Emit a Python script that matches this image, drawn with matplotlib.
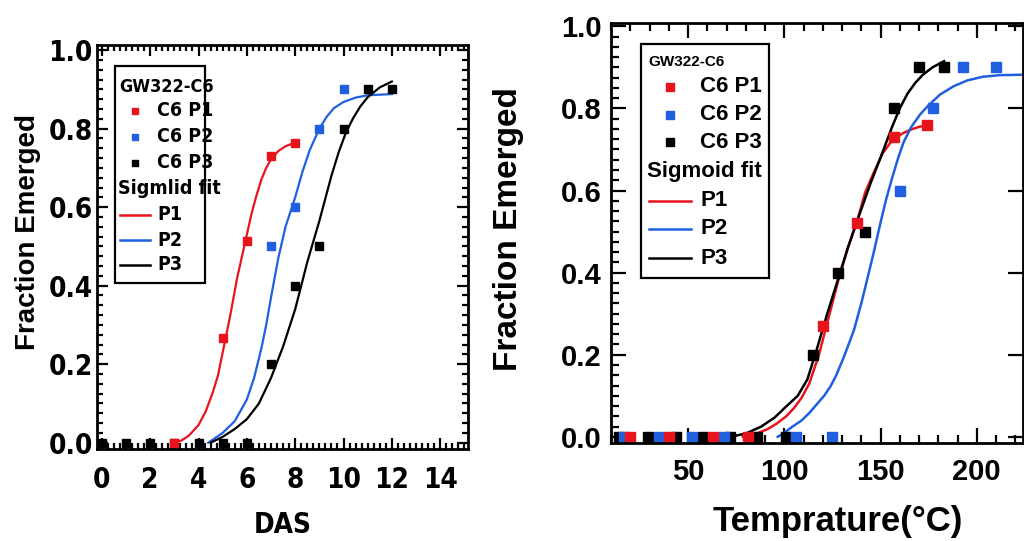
"""
GW322-C6 出苗比例: 左图按 DAS, 右图按温度
"""
import matplotlib
matplotlib.use('Agg')
import matplotlib.pyplot as plt
from matplotlib import font_manager
from matplotlib.ticker import MultipleLocator, FormatStrFormatter
from matplotlib.patches import Rectangle
from matplotlib.lines import Line2D

# 字体: 左图尽量用窄体, 右图用 Arial 类
WIDE = 'Liberation Sans'
_cond = font_manager.findfont(font_manager.FontProperties(family='DejaVu Sans', stretch='condensed',
                                                          weight='bold'))
if 'Condensed' in _cond:
    NARROW_FP = dict(fontproperties=font_manager.FontProperties(fname=_cond))
else:
    NARROW_FP = dict(fontfamily=WIDE, fontweight='bold')

RED = '#e8141c'
BLUE = '#1f5fe0'
BLACK = '#000000'

# ---- 左图数据 (DAS) ----
das_p1_x = [3, 5, 6, 7, 8]
das_p1_y = [0.0, 0.267, 0.515, 0.73, 0.763]
das_p2_x = [7, 8, 9, 10]
das_p2_y = [0.5, 0.6, 0.8, 0.9]
das_p3_x = [0, 1, 2, 3, 4, 5, 6, 7, 8, 9, 10, 11, 12]
das_p3_y = [0, 0, 0, 0, 0, 0, 0, 0.2, 0.4, 0.5, 0.8, 0.9, 0.9]

# 拟合曲线
das_fit1_x = [3.0, 3.3, 3.6, 4.0, 4.3, 4.6, 4.8, 5.0, 5.3, 5.6, 5.8, 6.0, 6.2, 6.4, 6.6, 6.8, 7.0, 7.3, 7.6, 8.0]
das_fit1_y = [0.0, 0.006, 0.018, 0.045, 0.08, 0.13, 0.17, 0.23, 0.32, 0.42, 0.475, 0.53, 0.585, 0.63, 0.67, 0.70,
              0.722, 0.743, 0.755, 0.765]
das_fit2_x = [4.4, 5.0, 5.5, 6.0, 6.3, 6.6, 6.8, 7.0, 7.3, 7.6, 8.0, 8.3, 8.6, 9.0, 9.3, 9.6, 10.0, 10.5, 11.0, 12.0]
das_fit2_y = [0.0, 0.025, 0.055, 0.11, 0.165, 0.24, 0.30, 0.37, 0.47, 0.55, 0.625, 0.69, 0.745, 0.8, 0.83, 0.852,
              0.868, 0.879, 0.885, 0.888]
das_fit3_x = [4.5, 5.0, 5.5, 6.0, 6.5, 7.0, 7.5, 8.0, 8.5, 9.0, 9.5, 9.8, 10.1, 10.4, 10.7, 11.0, 11.5, 12.0]
das_fit3_y = [0.0, 0.015, 0.035, 0.06, 0.10, 0.165, 0.245, 0.34, 0.46, 0.565, 0.68, 0.74, 0.79, 0.827, 0.857, 0.88,
              0.905, 0.92]

# ---- 右图数据 (温度) ----
tmp_p1_x = [20, 40, 63, 81, 120, 138, 157, 174]
tmp_p1_y = [0, 0, 0, 0, 0.27, 0.52, 0.73, 0.76]
tmp_p2_x = [17, 35, 52, 68.5, 106, 125, 160, 177, 193, 210]
tmp_p2_y = [0, 0, 0, 0, 0, 0, 0.6, 0.8, 0.9, 0.9]
tmp_p3_x = [14, 29, 44, 58, 72, 86, 101, 115, 128, 142, 157, 170, 183]
tmp_p3_y = [0, 0, 0, 0, 0, 0, 0, 0.2, 0.4, 0.5, 0.8, 0.9, 0.9]

tmp_fit1_x = [78.5, 85, 91, 96, 101, 105, 109, 113, 118, 123, 128, 133, 138, 142, 146.6, 151, 156, 161, 165.5, 170, 174]
tmp_fit1_y = [0.0, 0.007, 0.018, 0.032, 0.05, 0.07, 0.095, 0.13, 0.2, 0.29, 0.38, 0.46, 0.528, 0.595, 0.645, 0.69,
              0.722, 0.738, 0.748, 0.755, 0.759]
tmp_fit2_x = [96.6, 100, 104.3, 109, 113, 117, 120.7, 124, 127, 131, 136.2, 140, 143, 146.5, 150, 153, 156, 159, 162,
              166, 170.7, 175, 181, 188, 195, 203, 212, 224]
tmp_fit2_y = [0.0, 0.01, 0.025, 0.04, 0.058, 0.08, 0.1, 0.123, 0.15, 0.195, 0.26, 0.325, 0.382, 0.45, 0.522, 0.58,
              0.63, 0.677, 0.718, 0.755, 0.786, 0.808, 0.834, 0.854, 0.868, 0.877, 0.881, 0.882]
tmp_fit3_x = [72, 80, 88, 95, 101, 107, 112, 117, 122, 128, 133, 138, 145, 150, 156, 160, 164, 168, 172, 177, 183]
tmp_fit3_y = [0.0, 0.008, 0.025, 0.047, 0.074, 0.1, 0.14, 0.215, 0.295, 0.385, 0.46, 0.528, 0.62, 0.68, 0.755,
              0.8, 0.836, 0.862, 0.882, 0.9, 0.915]

W, H = 1024, 541
fig = plt.figure(figsize=(W / 100, H / 100), dpi=100)


def px(x, y):
    """像素坐标(左上为原点) -> figure fraction"""
    return x / W, 1 - y / H


def style_axes(ax, fp, size, pad_x, pad_y, major_len, minor_len):
    for sp in ax.spines.values():
        sp.set_linewidth(2.0)
    ax.tick_params(which='both', direction='in', top=True, right=True, width=1.6)
    ax.tick_params(which='major', length=major_len)
    ax.tick_params(which='minor', length=minor_len)
    ax.tick_params(axis='x', pad=pad_x)
    ax.tick_params(axis='y', pad=pad_y)
    for lab in ax.get_xticklabels() + ax.get_yticklabels():
        lab.update(fp)
        lab.set_fontsize(size)


def put_text(x, y, s, fp, size, **kw):
    t = fig.text(*px(x, y), s, va='center', ha='left', **kw)
    t.update(fp)
    t.set_fontsize(size)
    return t


def draw_legend(box, header, rows, marker_x, text_x, line_x, fp, hsize, size, msize):
    """手动画图例框 (像素坐标)"""
    x0, y0, x1, y1 = box
    fx0, fy1 = px(x0, y1)
    fx1, fy0 = px(x1, y0)
    fig.add_artist(Rectangle((fx0, fy1), fx1 - fx0, fy0 - fy1, transform=fig.transFigure,
                             fill=False, lw=1.6, ec='black'))
    hx, hy, htxt = header
    put_text(hx, hy, htxt, fp, hsize)
    for kind, y, color, label in rows:
        if kind == 'marker':
            fig.add_artist(Line2D([marker_x / W], [1 - y / H], transform=fig.transFigure, marker='s',
                                  ms=msize, color=color, ls='none'))
            put_text(text_x, y, label, fp, size)
        elif kind == 'line':
            fig.add_artist(Line2D([line_x[0] / W, line_x[1] / W], [1 - y / H, 1 - y / H],
                                  transform=fig.transFigure, color=color, lw=1.8))
            put_text(text_x, y, label, fp, size)
        else:
            put_text(line_x[0] - 2, y, label, fp, size)


WIDE_FP = dict(fontfamily=WIDE, fontweight='bold')

# ================= 左图 =================
ax1 = fig.add_axes([97 / W, 1 - 449 / H, (468 - 97) / W, (449 - 45) / H])
ax1.plot(das_fit1_x, das_fit1_y, color=RED, lw=1.6)
ax1.plot(das_fit2_x, das_fit2_y, color=BLUE, lw=1.6)
ax1.plot(das_fit3_x, das_fit3_y, color=BLACK, lw=1.6)
ax1.plot(das_p3_x, das_p3_y, 's', color=BLACK, ms=5.5)
ax1.plot(das_p2_x, das_p2_y, 's', color=BLUE, ms=5.5)
ax1.plot(das_p1_x, das_p1_y, 's', color=RED, ms=5.5)
ax1.set_xlim(-0.2, 15.15)
ax1.set_ylim(-0.016, 1.013)
ax1.xaxis.set_major_locator(MultipleLocator(2))
ax1.xaxis.set_minor_locator(MultipleLocator(0.25))
ax1.yaxis.set_major_locator(MultipleLocator(0.2))
ax1.yaxis.set_minor_locator(MultipleLocator(0.025))
ax1.yaxis.set_major_formatter(FormatStrFormatter('%.1f'))
style_axes(ax1, NARROW_FP, 20, 12.5, 3, 8, 4)
ax1.set_xlabel('DAS')
ax1.xaxis.label.update(NARROW_FP)
ax1.xaxis.label.set_fontsize(20)
ax1.xaxis.label.set_va('center')
ax1.xaxis.set_label_coords(0.501, -0.188)
ax1.set_ylabel('Fraction Emerged', fontfamily=WIDE, fontweight='bold', fontsize=20, va='center')
ax1.yaxis.set_label_coords(-0.186, 0.537)

draw_legend((115, 66, 205, 283), (119, 87, 'GW322-C6'),
            [('marker', 111, RED, 'C6 P1'),
             ('marker', 137, BLUE, 'C6 P2'),
             ('marker', 163, BLACK, 'C6 P3'),
             ('text', 189, BLACK, 'Sigmlid fit'),
             ('line', 215, RED, 'P1'),
             ('line', 240, BLUE, 'P2'),
             ('line', 265, BLACK, 'P3')],
            marker_x=135, text_x=157, line_x=(120, 150), fp=NARROW_FP, hsize=13, size=14, msize=5)

# ================= 右图 =================
ax2 = fig.add_axes([611 / W, 1 - 443 / H, (1023 - 611) / W, (443 - 23) / H])
ax2.plot(tmp_fit1_x, tmp_fit1_y, color=RED, lw=1.8)
ax2.plot(tmp_fit2_x, tmp_fit2_y, color=BLUE, lw=1.8)
ax2.plot(tmp_fit3_x, tmp_fit3_y, color=BLACK, lw=1.8)
ax2.plot(tmp_p3_x, tmp_p3_y, 's', color=BLACK, ms=6.5)
ax2.plot(tmp_p2_x, tmp_p2_y, 's', color=BLUE, ms=6.5)
ax2.plot(tmp_p1_x, tmp_p1_y, 's', color=RED, ms=6.5)
ax2.set_xlim(10, 224)
ax2.set_ylim(-0.015, 1.008)
ax2.xaxis.set_major_locator(MultipleLocator(50))
ax2.xaxis.set_minor_locator(MultipleLocator(10))
ax2.yaxis.set_major_locator(MultipleLocator(0.2))
ax2.yaxis.set_minor_locator(MultipleLocator(0.025))
ax2.yaxis.set_major_formatter(FormatStrFormatter('%.1f'))
style_axes(ax2, WIDE_FP, 21, 11, 7, 11, 6)
ax2.tick_params(which='minor', right=False)
ax2.set_xlabel('Temprature(°C)', fontfamily=WIDE, fontweight='bold', fontsize=25, va='center')
ax2.xaxis.set_label_coords(0.551, -0.188)
ax2.set_ylabel('Fraction Emerged', fontfamily=WIDE, fontweight='bold', fontsize=24, va='center')
ax2.yaxis.set_label_coords(-0.25, 0.51)

draw_legend((641, 44, 769, 278), (648, 62, 'GW322-C6'),
            [('marker', 87, RED, 'C6 P1'),
             ('marker', 115, BLUE, 'C6 P2'),
             ('marker', 142, BLACK, 'C6 P3'),
             ('text', 172, BLACK, 'Sigmoid fit'),
             ('line', 201, RED, 'P1'),
             ('line', 229, BLUE, 'P2'),
             ('line', 258, BLACK, 'P3')],
            marker_x=670, text_x=700, line_x=(649, 691), fp=WIDE_FP, hsize=11, size=16, msize=6)

plt.savefig('out.png', dpi=100)
plt.close()
